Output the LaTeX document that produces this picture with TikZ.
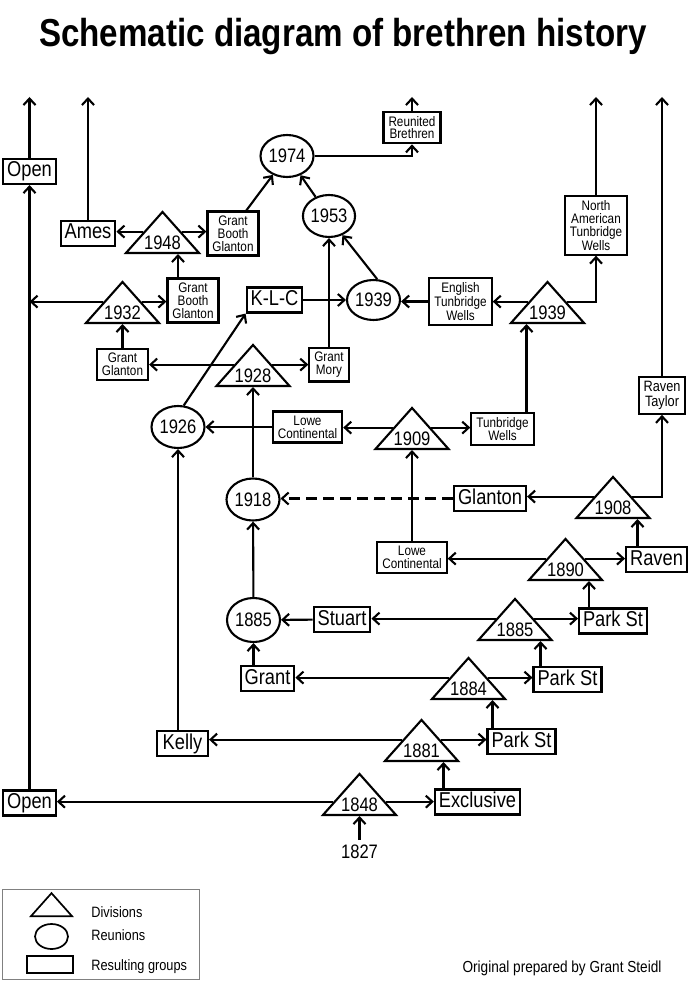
\documentclass[tikz,border=0pt]{standalone}
\usepackage{fontspec}
\setmainfont{Liberation Sans}[FakeStretch=0.85]
\usetikzlibrary{arrows.meta,shapes.geometric,calc}

\begin{document}
\begin{tikzpicture}[x=1pt,y=-1pt,line width=2.1pt,
  >={Straight Barb[length=6.5pt,width=12pt]},
  group/.style={draw,rectangle,inner xsep=4pt,inner ysep=2.5pt,text height=15.5pt,text depth=4.5pt,
    font=\fontsize{21.5}{24}\selectfont},
  smallgroup/.style={draw,rectangle,align=center,inner xsep=5pt,inner ysep=4.3pt,
    font=\fontsize{13.8}{12.8}\selectfont},
  reunion/.style={draw,ellipse,inner sep=0pt,minimum width=53pt,minimum height=42pt,
    font=\fontsize{19.5}{20}\selectfont},
  division/.style={draw,isosceles triangle,isosceles triangle stretches,shape border rotate=90,
    inner sep=0pt,minimum width=73pt,minimum height=41pt,anchor=lower side},
  year/.style={anchor=base,font=\fontsize{19.5}{20}\selectfont},
  legend/.style={anchor=base west,font=\fontsize{15}{16}\selectfont}]
  \useasboundingbox (0,0) rectangle (700,1000);

  \node[anchor=base,font=\fontsize{39}{40}\selectfont\bfseries] (title) at (343,47)
    {Schematic diagram of brethren history};
  \coordinate (top) at (0,97); %where the open arrows stop

  %Resulting groups
  \node[group] (openT) at (29.5,171.5) {Open};
  \node[group] (ames) at (88,233.5) {Ames};
  \node[smallgroup] (gbgA) at (233,233.5) {Grant\\Booth\\Glanton};
  \node[smallgroup] (gbgB) at (193,300.5) {Grant\\Booth\\Glanton};
  \node[smallgroup] (reunited) at (412,127.5) {Reunited\\Brethren};
  \node[group] (klc) at (274.5,300) {K-L-C};
  \node[smallgroup] (etw) at (460.5,301.5) {English\\Tunbridge\\Wells};
  \node[smallgroup] (natw) at (596,225.5) {North\\American\\Tunbridge\\Wells};
  \node[smallgroup] (gg) at (122.5,364.5) {Grant\\Glanton};
  \node[smallgroup] (gm) at (329,364.5) {Grant\\Mory};
  \node[smallgroup,font=\fontsize{15}{14.5}\selectfont] (ravtay) at (662,395.5) {Raven\\Taylor};
  \node[smallgroup] (tw) at (502.5,429) {Tunbridge\\Wells};
  \node[smallgroup] (lcA) at (307.5,427) {Lowe\\Continental};
  \node[group] (glanton) at (490,498.5) {Glanton};
  \node[group] (raven) at (656.5,559.5) {Raven};
  \node[smallgroup] (lcB) at (412,557.5) {Lowe\\Continental};
  \node[group] (parkA) at (613,621) {Park St};
  \node[group] (stuart) at (342,619.5) {Stuart};
  \node[group] (grant) at (267.5,678.5) {Grant};
  \node[group] (parkB) at (567.5,679.5) {Park St};
  \node[group,minimum width=51pt] (kelly) at (182.5,743.5) {Kelly};
  \node[group] (parkC) at (521.5,741.5) {Park St};
  \node[group] (openB) at (29.5,803) {Open};
  \node[group,minimum width=85pt] (excl) at (477.5,802) {Exclusive};

  %Reunions
  \node[reunion] (r1974) at (287,156) {1974};
  \node[reunion,minimum width=50pt] (r1953) at (329,216) {1953};
  \node[reunion,minimum height=40pt] (r1939) at (373.5,300) {1939};
  \node[reunion] (r1926) at (178,427) {1926};
  \node[reunion] (r1918) at (253,499.5) {1918};
  \node[reunion,minimum height=44pt] (r1885) at (253.5,620) {1885};

  %Divisions (placed at the middle of the base)
  \node[division] (d1948) at (162.5,254) {};
  \node[year] (y1948) at ([yshift=5pt]d1948.lower side) {1948};
  \node[division] (d1932) at (122.5,324) {};
  \node[year] (y1932) at ([yshift=5pt]d1932.lower side) {1932};
  \node[division] (d1928) at (253,387) {};
  \node[year] (y1928) at ([yshift=5pt]d1928.lower side) {1928};
  \node[division] (d1939) at (547.5,324) {};
  \node[year] (y1939) at ([yshift=5pt]d1939.lower side) {1939};
  \node[division] (d1909) at (412,450) {};
  \node[year] (y1909) at ([yshift=5pt]d1909.lower side) {1909};
  \node[division] (d1908) at (613,519) {};
  \node[year] (y1908) at ([yshift=5pt]d1908.lower side) {1908};
  \node[division] (d1890) at (565.5,581) {};
  \node[year] (y1890) at ([yshift=5pt]d1890.lower side) {1890};
  \node[division] (d1885) at (515,641) {};
  \node[year] (y1885) at ([yshift=5pt]d1885.lower side) {1885};
  \node[division] (d1884) at (468.5,700) {};
  \node[year] (y1884) at ([yshift=5pt]d1884.lower side) {1884};
  \node[division] (d1881) at (421.5,762) {};
  \node[year] (y1881) at ([yshift=5pt]d1881.lower side) {1881};
  \node[division] (d1848) at (359.5,816) {};
  \node[year] (y1848) at ([yshift=5pt]d1848.lower side) {1848};
  \node[year] (y1827) at (359.5,858) {1827};

  %Open ends at the top
  \draw[->] (openT) -- (openT |- top);
  \draw[->] (ames) -- (ames |- top);
  \draw[->] (reunited) -- (reunited |- top);
  \draw[->] (natw) -- (natw |- top);
  \draw[->] (ravtay) -- (ravtay |- top);
  \draw[->] (openB) -- (openT);

  %1848 and 1881
  \coordinate (c1848L) at ($(d1848.left corner)!0.32!(d1848.apex)$);
  \coordinate (c1848R) at ($(d1848.right corner)!0.32!(d1848.apex)$);
  \draw[->] (y1827) -- (d1848.lower side);
  \draw[->] (c1848L) -- (c1848L -| openB.east);
  \draw[->] (c1848R) -- (c1848R -| excl.west);
  \draw[->] ([xshift=-34pt]excl.north) -- ([xshift=-34pt]excl.north |- d1881.lower side);
  \draw[->] (d1881.left side) -- (d1881.left side -| kelly.east);
  \draw[->] (d1881.right side) -- (d1881.right side -| parkC.west);

  %1884 and 1885
  \draw[->] ([xshift=-29pt]parkC.north) -- ([xshift=-29pt]parkC.north |- d1884.lower side);
  \draw[->] (d1884.left side) -- (d1884.left side -| grant.east);
  \draw[->] (d1884.right side) -- (d1884.right side -| parkB.west);
  \draw[->] ([xshift=-27pt]parkB.north) -- ([xshift=-27pt]parkB.north |- d1885.lower side);
  \draw[->] (d1885.left side) -- (d1885.left side -| stuart.east);
  \draw[->] (d1885.right side) -- (d1885.right side -| parkA.west);
  \draw[->] (stuart) -- (r1885);
  \draw[->] (grant.north -| r1885) -- (r1885);
  \draw[->] (r1885) -- (r1918);

  %1890 and 1908
  \draw[->] ([xshift=-24pt]parkA.north) -- ([xshift=-24pt]parkA.north |- d1890.lower side);
  \draw[->] (d1890.left side) -- (d1890.left side -| lcB.east);
  \draw[->] (d1890.right side) -- (d1890.right side -| raven.west);
  \draw[->] ([xshift=-19pt]raven.north) -- ([xshift=-19pt]raven.north |- d1908.lower side);
  \draw[->] (d1908.left side) -- (d1908.left side -| glanton.east);
  \draw[->] (d1908.right side) -| (ravtay);
  \draw[->,dash pattern=on 11pt off 6pt] (glanton.west) -- (glanton.west -| r1918.east);

  %1909 and 1926
  \draw[->] (lcB) -- (d1909.lower side);
  \draw[->] (d1909.left side) -- (d1909.left side -| lcA.east);
  \draw[->] (d1909.right side) -- (d1909.right side -| tw.west);
  \draw[->] (lcA.west) -- (lcA.west -| r1926.east);
  \draw[->] (kelly.north -| r1926) -- (r1926);
  \draw[->] (r1926.75) -- (klc.south west);
  \draw[->] (r1918) -- (d1928.lower side);

  %1928, 1932 and 1948
  \draw[->] (d1928.left side) -- (d1928.left side -| gg.east);
  \draw[->] (d1928.right side) -- (d1928.right side -| gm.west);
  \draw[->] (gg) -- (d1932.lower side);
  \draw[->] (d1932.left side) -- (d1932.left side -| openT.south);
  \draw[->] (d1932.right side) -- (d1932.right side -| gbgB.west);
  \draw[->] ([xshift=-15pt]gbgB.north) -- ([xshift=-15pt]gbgB.north |- d1948.lower side);
  \draw[->] (d1948.left side) -- (d1948.left side -| ames.east);
  \draw[->] (d1948.right side) -- (d1948.right side -| gbgA.west);

  %1939 and the reunions above
  \draw[->] ([xshift=24pt]tw.north) -- ([xshift=24pt]tw.north |- d1939.lower side);
  \draw[->] (d1939.left side) -- (d1939.left side -| etw.east);
  \draw[->] (d1939.right side) -| (natw);
  \draw[->] (etw.west) -- (etw.west -| r1939.east);
  \draw[->] (klc) -- (r1939);
  \draw[->] (gm) -- (r1953);
  \draw[->] (r1939.80) -- (r1953.-55);
  \draw[->] (r1953) -- (r1974);
  \draw[->] (gbgA.60) -- (r1974);
  \draw[->] (r1974.east) -| (reunited);

  %Legend
  \draw[gray,line width=0.6pt] (2,889) rectangle (199,979);
  \node[division,line width=1.7pt,minimum width=41pt,minimum height=23pt] (legtri) at (51.5,917) {};
  \node[reunion,line width=1.7pt,minimum width=33pt,minimum height=25pt] (legell) at (51.5,936.5) {};
  \node[draw,rectangle,line width=1.7pt,minimum width=46pt,minimum height=17pt] (legbox) at (50,964.5) {};
  \node[legend] (legdiv) at (87,917) {Divisions};
  \node[legend] (legreu) at (87,940) {Reunions};
  \node[legend] (leggrp) at (87,970) {Resulting groups};

  \node[anchor=base,font=\fontsize{16}{18}\selectfont] (credit) at (562,972) {Original prepared by Grant Steidl};
\end{tikzpicture}
\end{document}
